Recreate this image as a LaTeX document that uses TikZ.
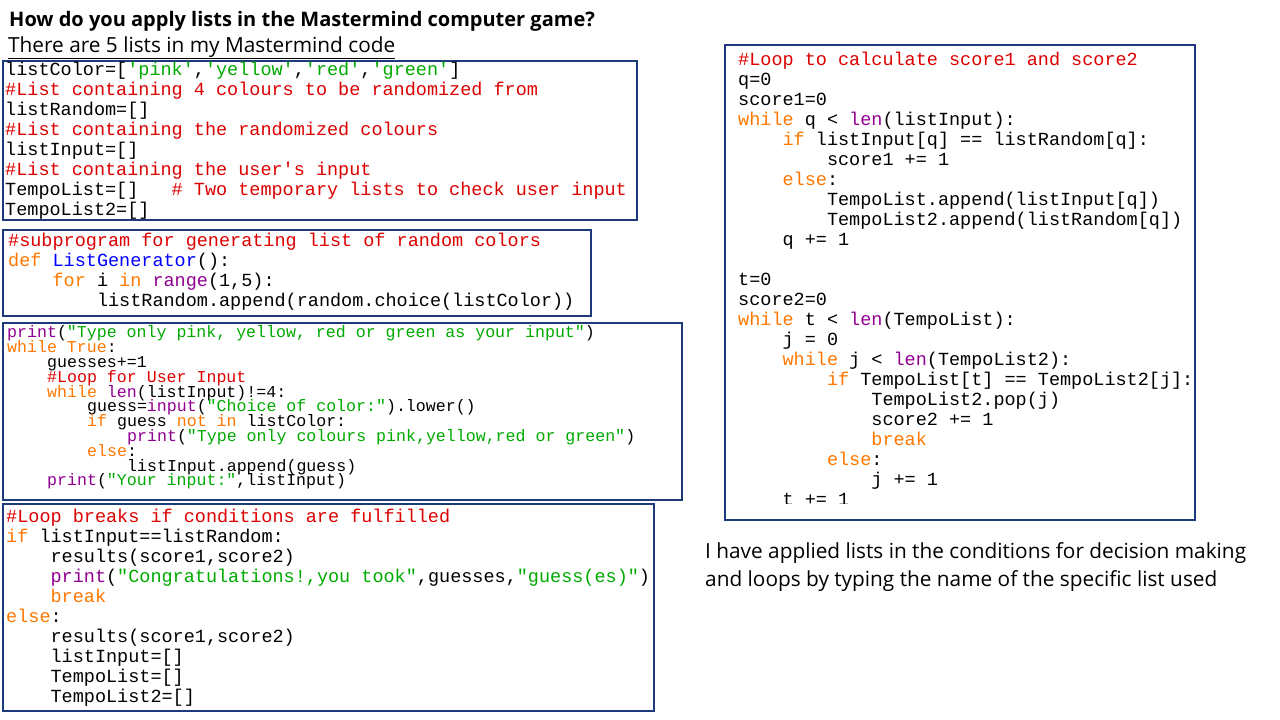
\documentclass[tikz,border=0pt]{standalone}
\usepackage{fontspec}
\setmainfont{Open Sans}
\newfontfamily\codef{Liberation Mono}
\definecolor{cmc}{HTML}{DD0000}
\definecolor{kwc}{HTML}{FF7700}
\definecolor{stc}{HTML}{00AA00}
\definecolor{bic}{HTML}{900090}
\definecolor{fnc}{HTML}{0000FF}
\definecolor{boxc}{HTML}{1F3A7A}
\newcommand{\cm}[1]{\textcolor{cmc}{#1}}
\newcommand{\kw}[1]{\textcolor{kwc}{#1}}
\newcommand{\st}[1]{\textcolor{stc}{#1}}
\newcommand{\bi}[1]{\textcolor{bic}{#1}}
\newcommand{\fn}[1]{\textcolor{fnc}{#1}}
\newcommand{\CL}[3]{\node[anchor=base west,inner sep=0] at (#1,#2) {\codef\fontsize{18.5}{20}\selectfont #3};}
\newcommand{\SL}[3]{\node[anchor=base west,inner sep=0] at (#1,#2) {\codef\fontsize{16.6}{18}\selectfont #3};}
\begin{document}
\begin{tikzpicture}[x=1pt,y=-1pt]
\useasboundingbox (0,0) rectangle (1280,720);
\tikzset{cbox/.style={draw=boxc,line width=1.3pt}}
\node[anchor=base west,inner sep=0,font=\bfseries\fontsize{20}{22}\selectfont] (t1) at (9,27) {How do you apply lists in the Mastermind computer game?};
\node[anchor=base west,inner sep=0,font=\fontsize{20.8}{22}\selectfont] (t2) at (8,52) {\underline{There are 5 lists in my Mastermind code}};
% box1
\draw[cbox] (3,61) rectangle (637,220);
\CL{5}{75}{listColor=[\st{'pink'},\st{'yellow'},\st{'red'},\st{'green'}]}
\CL{5}{95}{\cm{\#List containing 4 colours to be randomized from}}
\CL{5}{115}{listRandom=[]}
\CL{5}{135}{\cm{\#List containing the randomized colours}}
\CL{5}{155}{listInput=[]}
\CL{5}{175}{\cm{\#List containing the user's input}}
\CL{5}{195}{TempoList=[]\hspace{33.3pt}\cm{\# Two temporary lists to check user input}}
\CL{5}{215}{TempoList2=[]}
% box2
\draw[cbox] (3,230) rectangle (591,316);
\CL{8}{246}{\cm{\#subprogram for generating list of random colors}}
\CL{8}{266}{\kw{def} \fn{ListGenerator}():}
\CL{52.4}{286}{\kw{for} i \kw{in} \bi{range}(1,5):}
\CL{96.8}{306}{listRandom.append(random.choice(listColor))}
% box3
\draw[cbox] (3,323) rectangle (682,500);
\SL{7}{337}{\bi{print}(\st{"Type only pink, yellow, red or green as your input"})}
\SL{7}{352}{\kw{while} \kw{True}:}
\SL{47}{367}{guesses+=1}
\SL{47}{382}{\cm{\#Loop for User Input}}
\SL{47}{397}{\kw{while} \bi{len}(listInput)!=4:}
\SL{87}{411}{guess=\bi{input}(\st{"Choice of color:"}).lower()}
\SL{87}{426}{\kw{if} guess \kw{not in} listColor:}
\SL{127}{441}{\bi{print}(\st{"Type only colours pink,yellow,red or green"})}
\SL{87}{456}{\kw{else}:}
\SL{127}{471}{listInput.append(guess)}
\SL{47}{485}{\bi{print}(\st{"Your input:"},listInput)}
% box4
\draw[cbox] (3,504) rectangle (654,711);
\CL{6}{522}{\cm{\#Loop breaks if conditions are fulfilled}}
\CL{6}{542}{\kw{if} listInput==listRandom:}
\CL{50.4}{562}{results(score1,score2)}
\CL{50.4}{582}{\bi{print}(\st{"Congratulations!,you took"},guesses,\st{"guess(es)"})}
\CL{50.4}{602}{\kw{break}}
\CL{6}{622}{\kw{else}:}
\CL{50.4}{642}{results(score1,score2)}
\CL{50.4}{662}{listInput=[]}
\CL{50.4}{682}{TempoList=[]}
\CL{50.4}{702}{TempoList2=[]}
% right box
\draw[cbox] (725,45) rectangle (1195,520);
\begin{scope}
\clip (726,46) rectangle (1194,503);
\CL{738}{65}{\cm{\#Loop to calculate score1 and score2}}
\CL{738}{85}{q=0}
\CL{738}{105}{score1=0}
\CL{738}{125}{\kw{while} q < \bi{len}(listInput):}
\CL{782.4}{145}{\kw{if} listInput[q] == listRandom[q]:}
\CL{826.8}{165}{score1 += 1}
\CL{782.4}{185}{\kw{else}:}
\CL{826.8}{205}{TempoList.append(listInput[q])}
\CL{826.8}{225}{TempoList2.append(listRandom[q])}
\CL{782.4}{245}{q += 1}
\CL{738}{285}{t=0}
\CL{738}{305}{score2=0}
\CL{738}{325}{\kw{while} t < \bi{len}(TempoList):}
\CL{782.4}{345}{j = 0}
\CL{782.4}{365}{\kw{while} j < \bi{len}(TempoList2):}
\CL{826.8}{385}{\kw{if} TempoList[t] == TempoList2[j]:}
\CL{871.2}{405}{TempoList2.pop(j)}
\CL{871.2}{425}{score2 += 1}
\CL{871.2}{445}{\kw{break}}
\CL{826.8}{465}{\kw{else}:}
\CL{871.2}{485}{j += 1}
\CL{782.4}{505}{t += 1}
\end{scope}
\node[anchor=base west,inner sep=0,font=\fontsize{20.8}{22}\selectfont] (n1) at (705,558) {I have applied lists in the conditions for decision making};
\node[anchor=base west,inner sep=0,font=\fontsize{20.8}{22}\selectfont] (n2) at (705,586) {and loops by typing the name of the specific list used};
\end{tikzpicture}
\end{document}
